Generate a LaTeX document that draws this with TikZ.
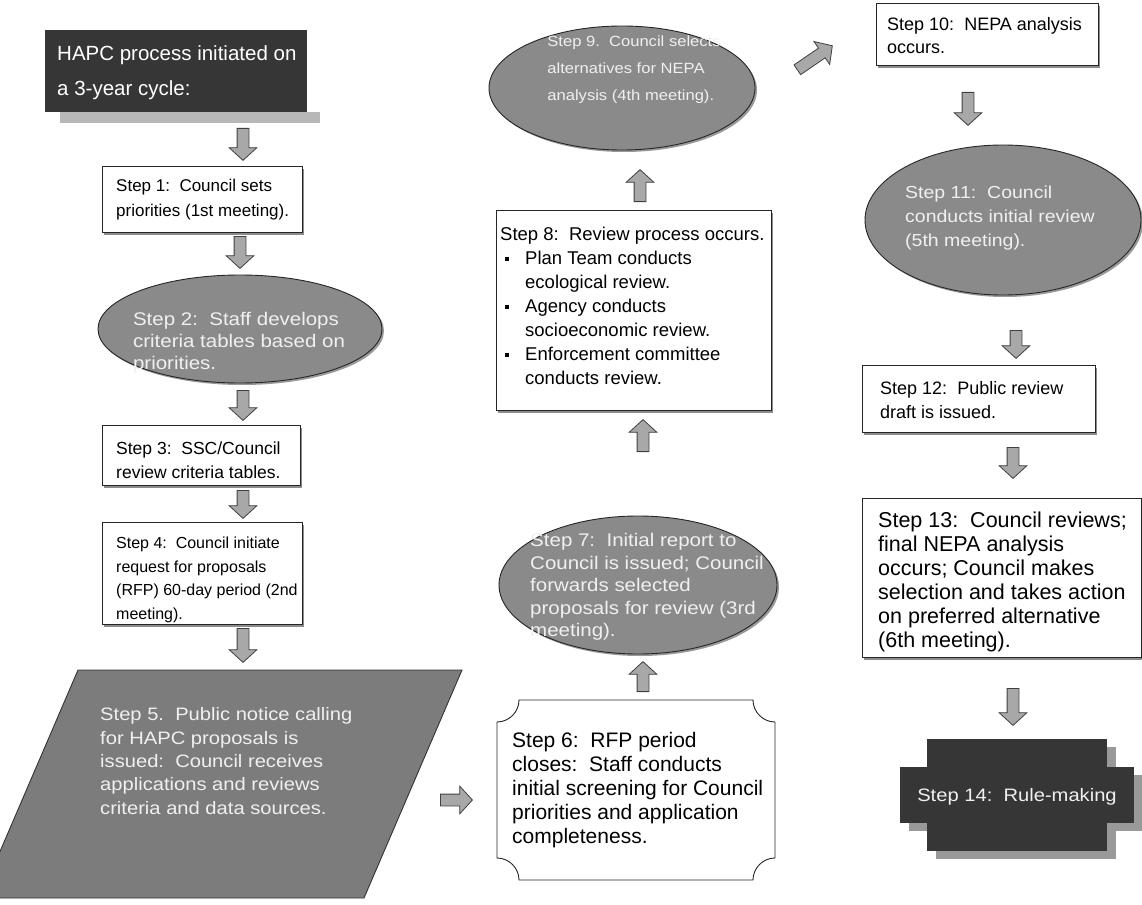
\documentclass[tikz,border=0pt]{standalone}
\usepackage{fontspec}
\setmainfont{Liberation Sans}
\newfontfamily\wf[FakeStretch=1.12]{Liberation Sans}
\usetikzlibrary{shapes.geometric,shapes.arrows,shadows,calc}
\definecolor{dark}{HTML}{363636}
\definecolor{ellfill}{HTML}{8A8A8A}
\definecolor{parfill}{HTML}{7C7C7C}
\definecolor{lighttext}{HTML}{F0F0F0}
\definecolor{arrfill}{HTML}{A8A8A8}
\newcommand\fs[2]{\fontsize{#1}{#2}\selectfont}
\newlength\bulind \setlength\bulind{25pt}
\newcommand\bul{\makebox[\bulind][l]{\hspace*{5pt}\rule[4pt]{3.5pt}{3.5pt}}}
\tikzset{
  box/.style={draw=black!85, line width=0.9pt, fill=white, anchor=north west, inner sep=0pt,
    drop shadow={shadow xshift=2pt, shadow yshift=-3pt, fill=black!45, opacity=1}},
  ell/.style={ellipse, draw=black!85, line width=0.9pt, fill=ellfill, inner sep=0pt,
    drop shadow={shadow xshift=2pt, shadow yshift=-2pt, fill=black!40, opacity=1}},
  btext/.style={anchor=west, align=left, inner sep=0pt},
  ltext/.style={text=lighttext, align=left, inner sep=0pt},
  barrow/.style={single arrow, draw=black!75, fill=arrfill, line width=0.8pt,
    text height=11pt, text depth=0pt, inner sep=0pt, single arrow head extend=8pt,
    single arrow tip angle=95, anchor=tail},
}
\newcommand\blockarrow[3]{\path let \p1=(#2), \p2=(#3), \n1={atan2(\y2-\y1,\x2-\x1)},
  \n2={veclen(\x2-\x1,\y2-\y1)} in node[barrow, minimum height=\n2, rotate=\n1] (#1) at (\p1) {};}
\begin{document}
\begin{tikzpicture}[x=1pt,y=-1pt]
\useasboundingbox (0,0) rectangle (1142,904);

% ---------- left column ----------
\fill[black!28] (60,112) rectangle (320,123);
\node[anchor=north west, fill=dark, minimum width=262pt, minimum height=82pt, inner sep=0pt]
  (title) at (45,30) {};
\node[btext, text=white, font=\fs{20.5}{35}] (titlet) at (57,73) {HAPC process initiated on\\a 3-year cycle:};

\node[box, minimum width=200pt, minimum height=66pt] (s1) at (102,166) {};
\node[btext, font=\fs{17}{25}] (s1t) at (116,200) {Step 1:\ \ Council sets\\priorities (1st meeting).};

\node[ell, minimum width=284pt, minimum height=108pt] (s2) at (240,329) {};
\node[ltext, font=\wf\fs{18.3}{22}] (s2t) at (239,343) {Step 2:\ \ Staff develops\\criteria tables based on\\priorities.};

\node[box, minimum width=198pt, minimum height=60pt] (s3) at (102,425) {};
\node[btext, font=\fs{17.5}{24}] (s3t) at (116,460) {Step 3:\ \ SSC/Council\\review criteria tables.};

\node[box, minimum width=200pt, minimum height=102pt] (s4) at (102,522) {};
\node[btext, font=\fs{16}{23.5}] (s4t) at (116,580)
  {Step 4:\ \ Council initiate\\request for proposals\\(RFP) 60-day period (2nd\\meeting).};

\draw[fill=parfill, draw=black!80, line width=0.9pt] (78,670) -- (462,670) -- (364,898) -- (-20,898) -- cycle;
\node[btext, text=lighttext, font=\wf\fs{18}{23.3}] (s5) at (100,761)
  {Step 5.\ \ Public notice calling\\for HAPC proposals is\\issued:\ \ Council receives\\applications and reviews\\criteria and data sources.};

% ---------- middle column ----------
\draw[fill=white, draw=black!85, line width=0.9pt] (519,700) -- (753,700)
  .. controls (753,712) and (763,722) .. (775,722) -- (775,858)
  .. controls (763,858) and (753,868) .. (753,880) -- (519,880)
  .. controls (519,868) and (509,858) .. (497,858) -- (497,722)
  .. controls (509,722) and (519,712) .. (519,700) -- cycle;
\node[btext, font=\fs{21}{24}] (s6) at (512,790)
  {Step 6:\ \ RFP period\\closes:\ \ Staff conducts\\initial screening for Council\\priorities and application\\completeness.};

\node[ell, minimum width=278pt, minimum height=138pt] (s7) at (638,585) {};
\node[ltext, font=\wf\fs{18.3}{22.5}] (s7t) at (647,587)
  {Step 7:\ \ Initial report to\\Council is issued; Council\\forwards selected\\proposals for review (3rd\\meeting).};

\node[box, minimum width=275pt, minimum height=200pt] (s8) at (496,210) {};
\node[btext, font=\fs{18.5}{24}] (s8t) at (500,306)
  {Step 8:\ \ Review process occurs.\\
   \bul Plan Team conducts\\\hspace*{\bulind}ecological review.\\
   \bul Agency conducts\\\hspace*{\bulind}socioeconomic review.\\
   \bul Enforcement committee\\\hspace*{\bulind}conducts review.};

\node[ell, minimum width=266pt, minimum height=124pt] (s9) at (622,88) {};
\node[ltext, font=\wf\fs{14.8}{27}] (s9t) at (634,70)
  {Step 9.\ \ Council selects\\alternatives for NEPA\\analysis (4th meeting).};

% ---------- right column ----------
\node[box, minimum width=222pt, minimum height=62pt] (s10) at (876,3) {};
\node[btext, font=\fs{18}{23}] (s10t) at (887,36) {Step 10:\ \ NEPA analysis\\occurs.};

\node[ell, minimum width=276pt, minimum height=150pt] (s11) at (1003,220) {};
\node[btext, text=lighttext, font=\wf\fs{17.4}{24}] (s11t) at (905,218)
  {Step 11:\ \ Council\\conducts initial review\\(5th meeting).};

\node[box, minimum width=233pt, minimum height=67pt] (s12) at (862,365) {};
\node[btext, font=\fs{18}{24}] (s12t) at (880,400) {Step 12:\ \ Public review\\draft is issued.};

\node[box, minimum width=279pt, minimum height=159pt] (s13) at (862,498) {};
\node[btext, font=\fs{21.5}{24}] (s13t) at (878,582)
  {Step 13:\ \ Council reviews;\\final NEPA analysis\\occurs; Council makes\\selection and takes action\\on preferred alternative\\(6th meeting).};

\begin{scope}[shift={(9,8)}]
  \fill[black!40] (900,767) rectangle (1134,823);
  \fill[black!40] (927,739) rectangle (1107,851);
\end{scope}
\fill[dark] (900,767) rectangle (1134,823);
\fill[dark] (927,739) rectangle (1107,851);
\node[ltext, font=\wf\fs{18}{24}] (s14) at (1017,797) {Step 14:\ \ Rule-making};

% ---------- block arrow connectors ----------
\coordinate (a0s) at (243,128);  \coordinate (a0e) at (243,160);
\coordinate (a1s) at (240,236);  \coordinate (a1e) at (240,268);
\coordinate (a2s) at (243,390);  \coordinate (a2e) at (243,420);
\coordinate (a3s) at (243,490);  \coordinate (a3e) at (243,518);
\coordinate (a4s) at (243,628);  \coordinate (a4e) at (243,662);
\coordinate (a5s) at (440,800);  \coordinate (a5e) at (472,800);
\coordinate (a6s) at (643,692);  \coordinate (a6e) at (643,662);
\coordinate (a7s) at (643,452);  \coordinate (a7e) at (643,420);
\coordinate (a8s) at (640,202);  \coordinate (a8e) at (640,170);
\coordinate (a9s) at (797,70);   \coordinate (a9e) at (832,46);
\coordinate (a10s) at (968,92);  \coordinate (a10e) at (968,125);
\coordinate (a11s) at (1016,330); \coordinate (a11e) at (1016,358);
\coordinate (a12s) at (1013,447); \coordinate (a12e) at (1013,478);
\coordinate (a13s) at (1013,688); \coordinate (a13e) at (1013,725);
\blockarrow{a0}{a0s}{a0e}
\blockarrow{a1}{a1s}{a1e}
\blockarrow{a2}{a2s}{a2e}
\blockarrow{a3}{a3s}{a3e}
\blockarrow{a4}{a4s}{a4e}
\blockarrow{a5}{a5s}{a5e}
\blockarrow{a6}{a6s}{a6e}
\blockarrow{a7}{a7s}{a7e}
\blockarrow{a8}{a8s}{a8e}
\blockarrow{a9}{a9s}{a9e}
\blockarrow{a10}{a10s}{a10e}
\blockarrow{a11}{a11s}{a11e}
\blockarrow{a12}{a12s}{a12e}
\blockarrow{a13}{a13s}{a13e}
\end{tikzpicture}
\end{document}
